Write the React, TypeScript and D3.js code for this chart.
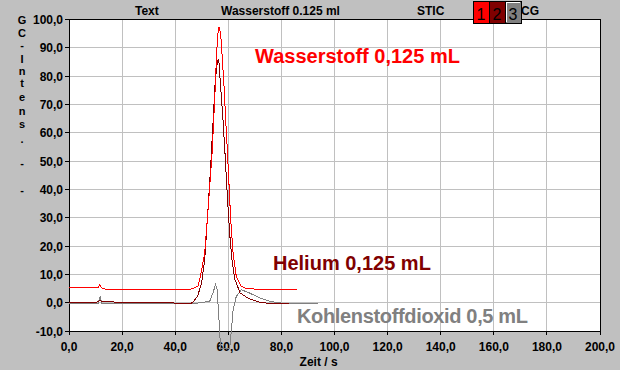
import React from 'react';
import * as d3 from 'd3';

// chart values (time in s, GC intensity)
const xTicks = [0, 20, 40, 60, 80, 100, 120, 140, 160, 180, 200];
const yTicks = [-10, 0, 10, 20, 30, 40, 50, 60, 70, 80, 90, 100];

const hydrogen: [number, number][] = [
  [0, 5.2], [5, 5.2], [10, 5.2], [11, 5.3], [11.6, 6.4], [12.3, 5.2], [13.5, 4.8],
  [20, 4.8], [30, 4.8], [40, 4.8], [46, 4.8], [48.6, 5.8], [49.5, 9.3], [51.1, 17.5],
  [52.1, 29.3], [53.0, 41.1], [53.9, 52.8], [54.5, 64.6], [55.1, 76.4], [55.6, 88.1],
  [56.1, 95.2], [56.5, 97.3], [57.1, 95.2], [57.6, 88.1], [58.4, 76.4], [59.0, 64.6],
  [59.7, 52.8], [60.3, 41.1], [60.9, 29.3], [61.8, 17.5], [63.0, 9.3], [64.9, 5.8],
  [66.8, 5.0], [70, 4.8], [75, 4.8], [83, 4.8], [83.2, 4.5], [86, 4.5],
];

const helium: [number, number][] = [
  [0, 0.2], [10, 0.2], [11, 0.3], [11.6, 0.9], [12.4, 0.3], [20, 0.2], [30, 0.2],
  [38, 0.1], [40, -0.2], [46, -0.2], [47, 0.5], [48.5, 2.5], [49.9, 6.8], [51.1, 15.0],
  [52.1, 29.3], [53.3, 47.0], [54.3, 64.6], [55.1, 78.7], [55.9, 85.2], [56.2, 85.8],
  [56.5, 84.6], [57.1, 76.4], [58.0, 64.6], [58.9, 50.5], [59.7, 36.4], [60.6, 23.5],
  [61.5, 14.1], [62.5, 8.2], [64.4, 3.5], [66.8, 2.0], [68, 1.4], [70, 0.7], [72, 0.1],
  [75, -0.2], [83, -0.2],
];

const co2: [number, number][] = [
  [0, -0.35], [10, -0.35], [11, -0.3], [11.7, 2.2], [12.4, -0.3], [20, -0.35],
  [30, -0.35], [40, -0.3], [45, -0.2], [49.2, -0.1], [53, 0.5], [54.2, 3.4],
  [55.2, 6.4], [55.8, 4.6], [56.5, -6], [57.1, -16.2], [60.5, -16.2], [61.2, -9.5],
  [61.8, -2.5], [63, 2.2], [64.9, 4.6], [68, 3.4], [71.8, 1.7], [75.6, 0.5],
  [79.3, -0.1], [85, -0.3], [93.6, -0.4],
];

const yTitleChars = [
  ['G', 20], ['C', 33], ['-', 45], ['I', 59], ['n', 71], ['t', 83], ['e', 97],
  ['n', 111], ['s', 124], ['.', 139], ['-', 163], ['-', 190],
] as [string, number][];

const W = 620;
const H = 370;
const LEFT = 69;
const RIGHT = 600;
const TOP = 19.5;
const BOTTOM = 331;

const FONT = '"Liberation Sans", Arial, sans-serif';

export default function App() {
  const x = d3.scaleLinear().domain([0, 200]).range([LEFT, RIGHT]);
  const y = d3.scaleLinear().domain([-10, 100]).range([BOTTOM, TOP]);
  const line = d3.line<[number, number]>().x((d) => x(d[0])).y((d) => y(d[1]));

  const fmt = (v: number) => v.toFixed(1).replace('.', ',');

  return (
    <svg width={W} height={H} style={{ position: 'fixed', left: 0, top: 0 }}
      fontFamily={FONT} fontWeight="bold">
      <rect x={0} y={0} width={W} height={H} fill="#c0c0c0" />
      <rect x={LEFT} y={TOP} width={RIGHT - LEFT} height={BOTTOM - TOP} fill="#fff" />

      {/* grid */}
      <g stroke="#c0c0c0" shapeRendering="crispEdges">
        {xTicks.slice(1, -1).map((t) => (
          <line key={'gx' + t} x1={x(t)} x2={x(t)} y1={TOP} y2={BOTTOM} />
        ))}
        {yTicks.slice(1, -1).map((t) => (
          <line key={'gy' + t} x1={LEFT} x2={RIGHT} y1={y(t)} y2={y(t)} />
        ))}
      </g>

      {/* frame */}
      <rect x={LEFT} y={TOP} width={RIGHT - LEFT} height={BOTTOM - TOP} fill="none"
        stroke="#000" shapeRendering="crispEdges" />

      {/* y axis */}
      <g fontSize={12}>
        {yTicks.map((t) => (
          <g key={'y' + t}>
            <line x1={LEFT - 4} x2={LEFT} y1={y(t)} y2={y(t)} stroke="#000" shapeRendering="crispEdges" />
            <text x={63} y={y(t) + 4.5} textAnchor="end">{fmt(t)}</text>
          </g>
        ))}
      </g>

      {/* x axis */}
      <g fontSize={12}>
        {xTicks.map((t) => (
          <g key={'x' + t}>
            <line x1={x(t)} x2={x(t)} y1={BOTTOM} y2={BOTTOM + 4} stroke="#000" shapeRendering="crispEdges" />
            <text x={x(t)} y={351} textAnchor="middle">{fmt(t)}</text>
          </g>
        ))}
        <text x={x(94)} y={366} textAnchor="middle">Zeit / s</text>
      </g>

      {/* vertical y title */}
      <g fontSize={11}>
        {yTitleChars.map(([c, cy], i) => (
          <text key={'c' + i} x={22} y={cy + 4} textAnchor="middle">{c}</text>
        ))}
      </g>

      {/* header */}
      <g fontSize={12}>
        <text x={135} y={15}>Text</text>
        <text x={221} y={15}>Wasserstoff 0.125 ml</text>
        <text x={417} y={15}>STIC</text>
        <text x={521} y={15}>CG</text>
      </g>
      <g fontSize={16} fontWeight="normal">
        <rect x={473} y={1} width={16} height={22} fill="#ff0000" stroke="#000" shapeRendering="crispEdges" />
        <text x={481} y={20} textAnchor="middle">1</text>
        <rect x={489} y={1} width={16} height={22} fill="#800000" stroke="#000" shapeRendering="crispEdges" />
        <text x={497} y={20} textAnchor="middle">2</text>
        <rect x={505} y={1} width={16} height={22} fill="#808080" stroke="#000" shapeRendering="crispEdges" />
        <polyline points="506,22 506,2 520,2" fill="none" stroke="#fff" shapeRendering="crispEdges" />
        <text x={513} y={20} textAnchor="middle">3</text>
      </g>

      {/* annotations */}
      <g fontSize={20}>
        <text x={255} y={63} fill="#ff0000">Wasserstoff 0,125 mL</text>
        <text x={273} y={270} fill="#800000">Helium 0,125 mL</text>
        <text x={297} y={323} fill="#808080" textLength={231}>Kohlenstoffdioxid 0,5 mL</text>
      </g>

      {/* series, drawn last so the CO2 dip runs over the axis labels */}
      <g fill="none" shapeRendering="crispEdges" strokeWidth={1}>
        <path d={line(co2) || ''} stroke="#808080" />
        <path d={line(helium) || ''} stroke="#800000" />
        <path d={line(hydrogen) || ''} stroke="#ff0000" />
      </g>
    </svg>
  );
}
